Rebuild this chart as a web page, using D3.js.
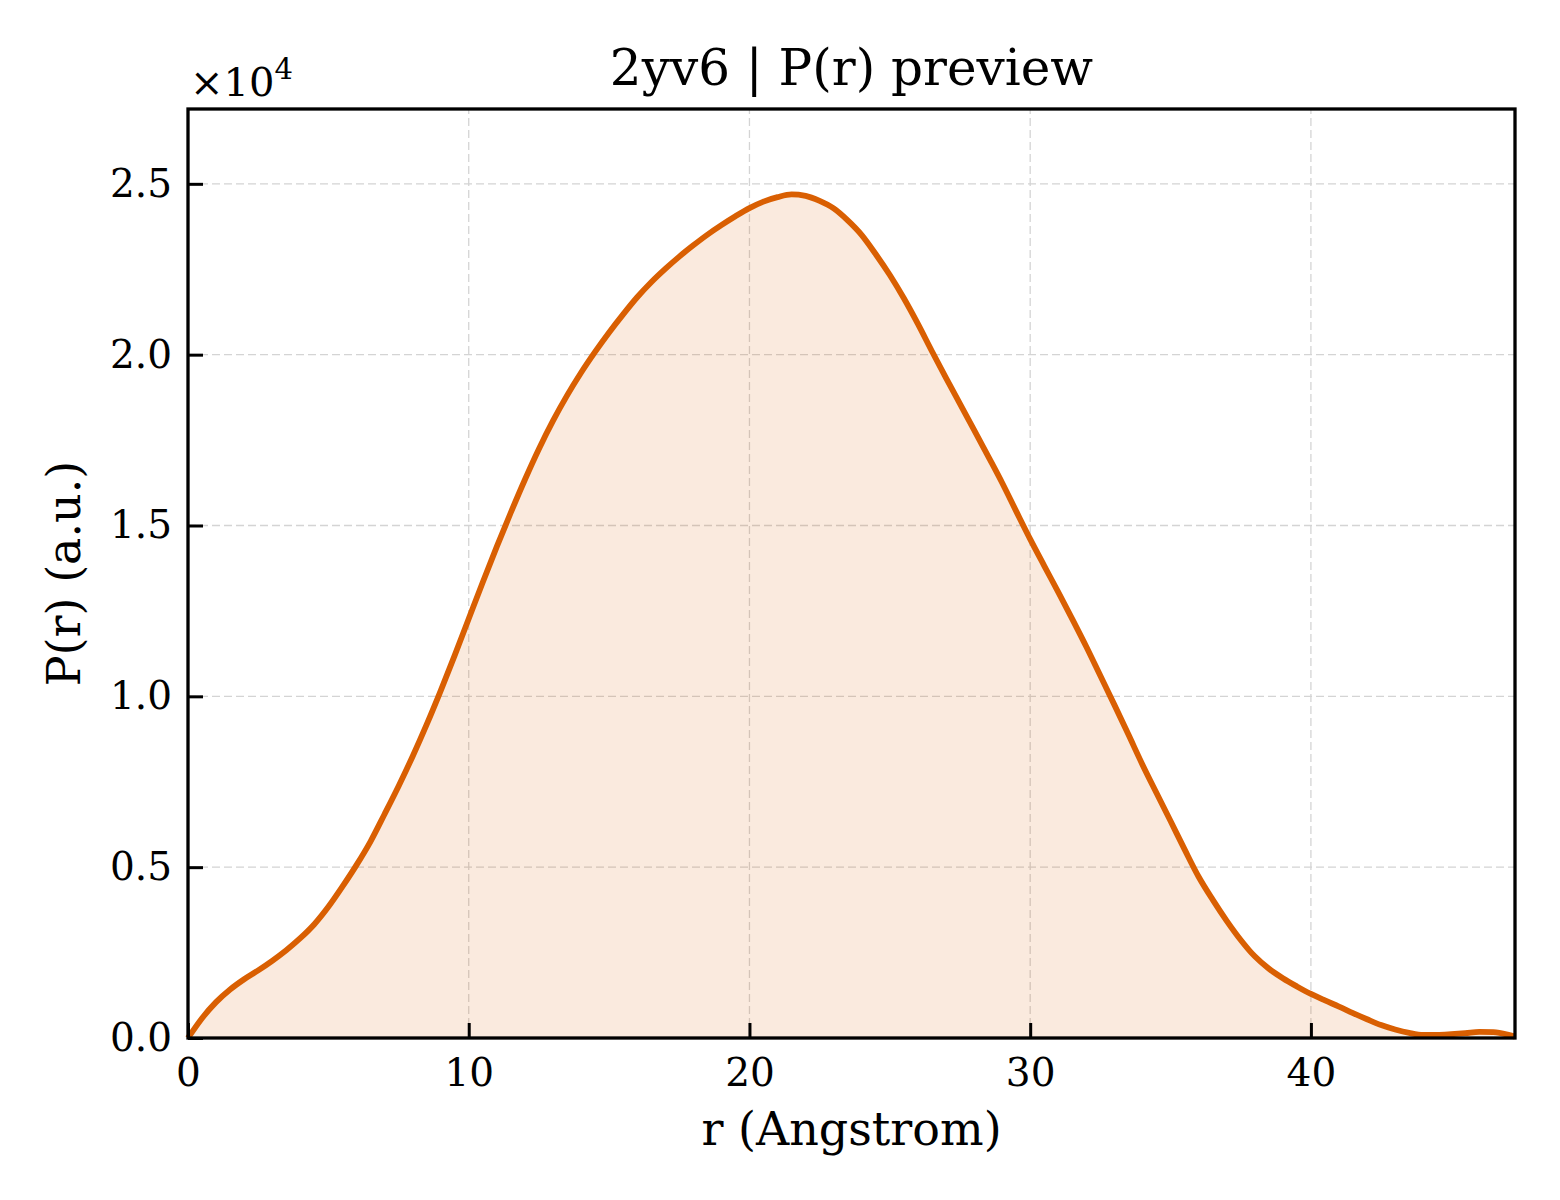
<!DOCTYPE html>
<html>
<head>
<meta charset="utf-8">
<script src="https://cdn.jsdelivr.net/npm/d3@7"></script>
<style>
  body { margin: 0; background: #fff; }
  text { font-family: "DejaVu Serif", serif; fill: #000; }
</style>
</head>
<body>
<div id="chart"></div>
<script>
const rValues = [0, 0.5, 1, 1.5, 2, 2.5, 3, 3.5, 4, 4.5, 5, 5.5, 6, 6.5, 7, 7.5, 8, 8.5, 9, 9.5,
  10, 10.5, 11, 11.5, 12, 12.5, 13, 13.5, 14, 14.5, 15, 15.5, 16, 16.5, 17, 17.5, 18, 18.5, 19, 19.5,
  20, 20.5, 21, 21.5, 22, 22.5, 23, 23.5, 24, 24.5, 25, 25.5, 26, 26.5, 27, 27.5, 28, 28.5, 29, 29.5,
  30, 30.5, 31, 31.5, 32, 32.5, 33, 33.5, 34, 34.5, 35, 35.5, 36, 36.5, 37, 37.5, 38, 38.5, 39, 39.5,
  40, 40.5, 41, 41.5, 42, 42.5, 43, 43.5, 44, 44.5, 45, 45.5, 46, 46.5, 47, 47.27]
const prValues = [0, 580, 1050, 1420, 1720, 1980, 2260, 2570, 2920, 3330, 3840, 4430, 5060, 5750, 6550, 7370, 8240, 9170, 10160, 11200,
  12270, 13340, 14380, 15380, 16340, 17240, 18060, 18800, 19470, 20080, 20650, 21180, 21680, 22120, 22510, 22870, 23200, 23510, 23790, 24050,
  24290, 24480, 24610, 24690, 24650, 24500, 24280, 23930, 23500, 22940, 22330, 21650, 20900, 20100, 19320, 18560, 17800, 17030, 16250, 15420,
  14600, 13820, 13050, 12260, 11450, 10600, 9750, 8880, 8000, 7170, 6350, 5520, 4720, 4050, 3430, 2870, 2390, 2030, 1750, 1510,
  1290, 1100, 920, 730, 550, 380, 250, 150, 90, 90, 110, 140, 180, 170, 100, 40]
const xTicks = [0, 10, 20, 30, 40]
const yTicks = [0, 5000, 10000, 15000, 20000, 25000]

const title = "2yv6 | P(r) preview"
const xLabel = "r (Angstrom)"
const yLabel = "P(r) (a.u.)"
const lineColour = "#d95f02"

const width = 1560
const height = 1200
const margin = {top: 109, right: 45, bottom: 162, left: 188}

const data = rValues.map((r, i) => ({r: r, p: prValues[i]}))

const svg = d3.select("#chart")
    .append("svg")
    .attr("width", width)
    .attr("height", height)

const x = d3.scaleLinear()
    .domain([0, 47.27])
    .range([margin.left, width - margin.right])

const y = d3.scaleLinear()
    .domain([0, 27190])
    .range([height - margin.bottom, margin.top])

// dashed grid
svg.append("g")
    .selectAll("line")
    .data(xTicks)
    .join("line")
    .attr("x1", d => x(d)).attr("x2", d => x(d))
    .attr("y1", y.range()[0]).attr("y2", y.range()[1])
    .attr("stroke", "#d4d4d4").attr("stroke-width", 1.3)
    .attr("stroke-dasharray", "8,4")

svg.append("g")
    .selectAll("line")
    .data(yTicks)
    .join("line")
    .attr("x1", x.range()[0]).attr("x2", x.range()[1])
    .attr("y1", d => y(d)).attr("y2", d => y(d))
    .attr("stroke", "#d4d4d4").attr("stroke-width", 1.3)
    .attr("stroke-dasharray", "8,4")

// area + line
svg.append("path")
    .datum(data)
    .attr("fill", lineColour)
    .attr("fill-opacity", 0.13)
    .attr("d", d3.area()
        .x(d => x(d.r))
        .y0(y(0))
        .y1(d => y(d.p))
        .curve(d3.curveMonotoneX))

svg.append("path")
    .datum(data)
    .attr("fill", "none")
    .attr("stroke", lineColour)
    .attr("stroke-width", 5.8)
    .attr("stroke-linejoin", "round")
    .attr("d", d3.line()
        .x(d => x(d.r))
        .y(d => y(d.p))
        .curve(d3.curveMonotoneX))

// axes, ticks pointing inward
const xAxis = svg.append("g")
    .attr("transform", "translate(0," + y(0) + ")")
    .call(d3.axisBottom(x).tickValues(xTicks).tickSizeInner(-15).tickSizeOuter(0).tickPadding(20).tickFormat(d3.format("d")))
const yAxis = svg.append("g")
    .attr("transform", "translate(" + x(0) + ",0)")
    .call(d3.axisLeft(y).tickValues(yTicks).tickSizeInner(-15).tickSizeOuter(0).tickPadding(16).tickFormat(d => (d / 10000).toFixed(1)))

;[xAxis, yAxis].forEach(a => {
    a.select(".domain").remove()
    a.selectAll(".tick line").attr("stroke", "#000").attr("stroke-width", 3)
    a.selectAll(".tick text").style("font-size", "39px").style("font-family", "DejaVu Serif")
})
xAxis.selectAll(".tick text").attr("dy", "0.71em")

// frame
svg.append("rect")
    .attr("x", x.range()[0]).attr("y", y.range()[1])
    .attr("width", x.range()[1] - x.range()[0])
    .attr("height", y.range()[0] - y.range()[1])
    .attr("fill", "none").attr("stroke", "#000").attr("stroke-width", 3.3)

// texts
svg.append("text")
    .attr("x", (x.range()[0] + x.range()[1]) / 2).attr("y", 85)
    .attr("text-anchor", "middle").style("font-size", "50px")
    .text(title)

svg.append("text")
    .attr("x", (x.range()[0] + x.range()[1]) / 2).attr("y", 1145)
    .attr("text-anchor", "middle").style("font-size", "46px")
    .text(xLabel)

svg.append("text")
    .attr("transform", "translate(80," + (y.range()[0] + y.range()[1]) / 2 + ") rotate(-90)")
    .attr("text-anchor", "middle").style("font-size", "46px")
    .text(yLabel)

const offset = svg.append("text")
    .attr("x", 190).attr("y", 96)
    .style("font-size", "40px")
offset.append("tspan").text("\u00d710")
offset.append("tspan").attr("dy", -17).style("font-size", "29px").text("4")
</script>
</body>
</html>
